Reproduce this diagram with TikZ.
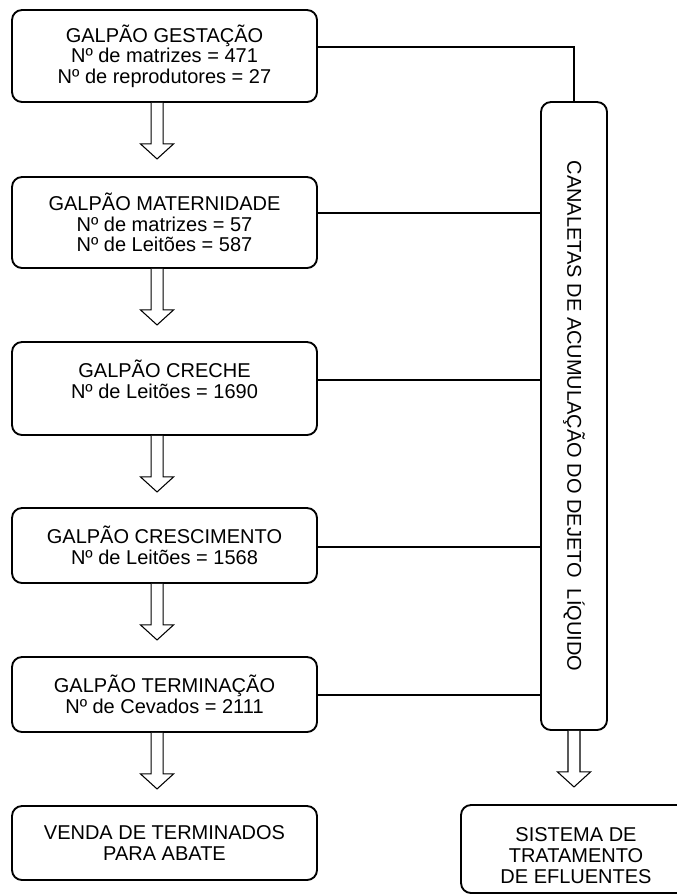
\documentclass[tikz,border=0pt]{standalone}
\usepackage{fontspec}
\setmainfont{Liberation Sans}
\tikzset{
  galpao/.style={draw, line width=1.4pt, rounded corners=7.5pt, align=center,
    minimum width=228.75pt, font=\fontsize{15}{15.5}\selectfont},
  texto/.style={align=center, font=\fontsize{15}{15.5}\selectfont},
  canal/.style={line width=1.1pt},
  seta/.style={draw, line width=0.8pt, fill=white},
}
% block arrow hanging below a box
\newcommand{\setabloco}[2][0pt]{%
  \draw[seta] ([xshift=#1]#2.south) ++(-6,0) -- ++(0,41) -- ++(-10.5,0) -- ++(16.5,15)
    -- ++(16.5,-15) -- ++(-10.5,0) -- ++(0,-41);}
\begin{document}
\begin{tikzpicture}[x=0.75pt, y=-0.75pt]
\clip (0,0) rectangle (677,896);

\node[galpao, minimum height=69pt] (ges) at (164.5,56)
  {GALPÃO GESTAÇÃO\\Nº de matrizes = 471\\Nº de reprodutores = 27};
\node[galpao, minimum height=68.25pt] (mat) at (164.5,222.5)
  {GALPÃO MATERNIDADE\\Nº de matrizes = 57\\Nº de Leitões = 587};
\node[galpao, minimum height=69.75pt] (cre) at (164.5,388.5) {};
\node[texto] (cretxt) at ([yshift=7pt]cre.center)
  {GALPÃO CRECHE\\Nº de Leitões = 1690};
\node[galpao, minimum height=56.25pt] (cres) at (164.5,545.5)
  {GALPÃO CRESCIMENTO\\Nº de Leitões = 1568};
\node[galpao, minimum height=56.25pt] (ter) at (164.5,694.5)
  {GALPÃO TERMINAÇÃO\\Nº de Cevados = 2111};
\node[galpao, minimum height=55.5pt] (venda) at (164.5,843)
  {VENDA DE TERMINADOS\\PARA ABATE};

% canaleta and treatment
\node[galpao, minimum width=49.5pt, minimum height=471pt] (can) at (574,416) {};
\node[texto, rotate=-90] (cantxt) at (can.center)
  {CANALETAS DE ACUMULAÇÃO DO DEJETO\ \ LÍQUIDO};
\node[galpao, minimum width=172.5pt, minimum height=66pt] (trat) at (576,849) {};
\node[texto] (trattxt) at ([yshift=-5pt]trat.center)
  {SISTEMA DE\\TRATAMENTO\\DE EFLUENTES};

\draw[canal] ([yshift=6.75pt]ges.east) -| (can.north);
\foreach \g/\d in {mat/7pt, cre/6.4pt, cres/-1.1pt, ter/-0.4pt}
  \draw[canal] ([yshift=\d]\g.east) -- ([yshift=\d]\g.east -| can.west);

\foreach \g in {ges, mat, cre, cres, ter} \setabloco[-5.6pt]{\g};
\setabloco{can}
\end{tikzpicture}
\end{document}
